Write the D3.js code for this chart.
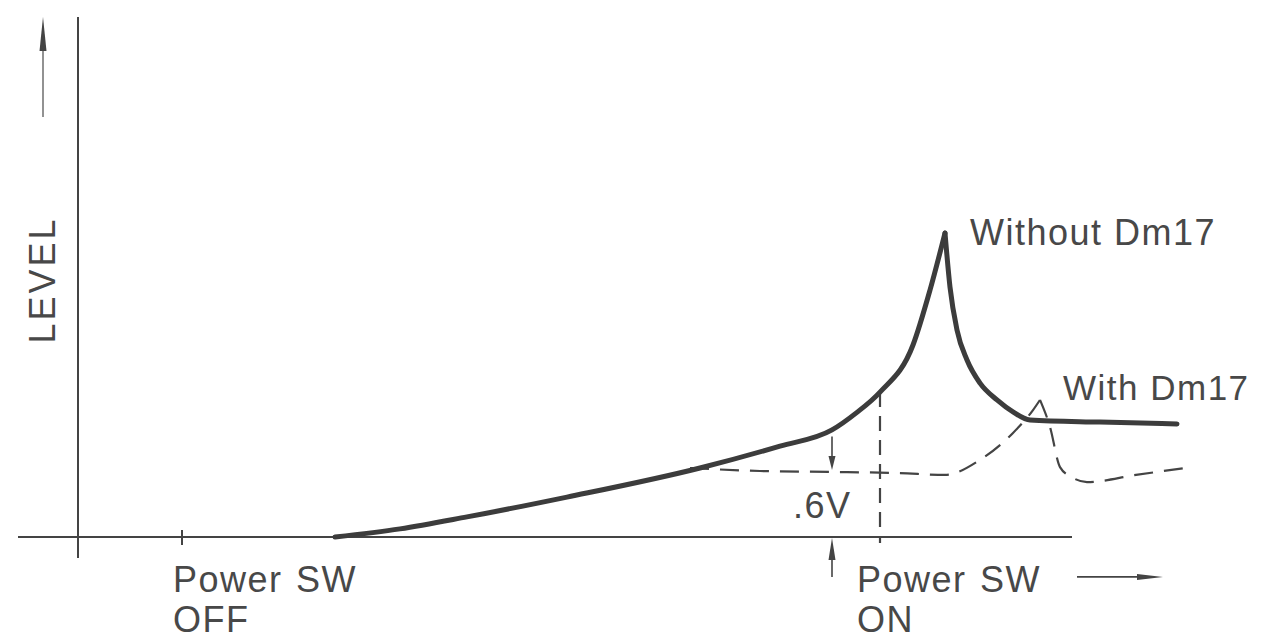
<!DOCTYPE html>
<html>
<head>
<meta charset="utf-8">
<script src="https://cdn.jsdelivr.net/npm/d3@7"></script>
<style>
  body { margin: 0; background: #fff; }
  text { font-family: "Liberation Sans", Arial, sans-serif; fill: #484848; }
</style>
</head>
<body>
<div id="chart"></div>
<script>
// Curve points in chart units: [time, level]
const solidRise = [[25.7,0],[32.2,2.7],[38.9,6.7],[48.9,13.3],[62.2,23],[70.2,30.3],[75.4,35.7],
                   [77.8,41.3],[80.2,48.3],[83.5,64],[85.2,82.3],[86.7,101.3]]
const solidFall = [[86.7,101.3],[87.2,83.3],[87.9,69],[88.9,59],[90.2,51.3],[91.9,45.7],
                   [93.5,41.7],[95.2,39],[102.2,38.3],[109.9,37.7]]
const dashRise = [[61.2,23],[68.2,22],[75.2,21.7],[82.2,21.3],[86.7,20.7],[90.2,25.7],
                  [93.5,34.7],[95.5,42.3],[96.2,45.7]]
const dashFall = [[96.2,45.7],[97.2,36.7],[98.2,23.3],[99.5,19.7],[100.9,18.3],[105.8,20.7],[110.7,23]]

// events on the time axis
const offTime = 10.4
const onTime = 75.4
const dropTime = 80.2      // where the .6V drop is measured
const dropLevels = [33.5, 22.3]
const xExtent = [-6, 99.4]
const yExtent = [-7, 173.3]

const labels = {
  without: "Without Dm17",
  with: "With Dm17",
  drop: ".6V",
  off: ["Power SW", "OFF"],
  on: ["Power SW", "ON"],
  yTitle: "LEVEL"
}

const width = 1265, height = 639
const ink = "#444"

const svg = d3.select("#chart").append("svg")
    .attr("width", width).attr("height", height)

const xScale = d3.scaleLinear().domain([0, 100]).range([78, 1078])
const yScale = d3.scaleLinear().domain([0, 100]).range([537, 237])

function seg(x1, y1, x2, y2) {
    return svg.append("line")
        .attr("x1", xScale(x1)).attr("y1", yScale(y1))
        .attr("x2", xScale(x2)).attr("y2", yScale(y2))
        .attr("stroke", ink)
}

// arrowhead: thin filled triangle with tip at (px, py), pointing dir
function head(px, py, dir, len, half) {
    const pts = {
        up:    [[px, py], [px - half, py + len], [px + half, py + len]],
        down:  [[px, py], [px - half, py - len], [px + half, py - len]],
        right: [[px, py], [px - len, py - half], [px - len, py + half]]
    }[dir]
    svg.append("path").attr("d", "M" + pts.join("L") + "Z").attr("fill", ink)
}

// axes
seg(xExtent[0], 0, xExtent[1], 0).attr("stroke-width", 2)
seg(0, yExtent[0], 0, yExtent[1]).attr("stroke-width", 2)
// Power SW OFF tick
seg(offTime, 2.3, offTime, -2.7).attr("stroke-width", 2)

// y direction arrow
seg(-3.5, 140, -3.5, 168).attr("stroke-width", 1.6).attr("stroke", "#777")
head(xScale(-3.5), yScale(yExtent[1]), "up", 34, 3.5)

// x direction arrow
seg(99.9, -13.3, 106, -13.3).attr("stroke-width", 1.6)
head(xScale(108.5), yScale(-13.3), "right", 26, 3)

// power on marker arrow below axis
seg(onTime, -13.3, onTime, -5).attr("stroke-width", 1.6)
head(xScale(onTime), yScale(0) + 1, "up", 22, 3.5)

// .6V drop arrow
seg(onTime, dropLevels[0], onTime, dropLevels[1] + 4).attr("stroke-width", 1.6)
head(xScale(onTime), yScale(dropLevels[1]), "down", 14, 3.5)

const line = d3.line()
    .x(d => xScale(d[0]))
    .y(d => yScale(d[1]))
    .curve(d3.curveMonotoneX)

// dashed "with" curve
;[dashRise, dashFall].forEach(pts => {
    svg.append("path").attr("d", line(pts))
        .attr("fill", "none").attr("stroke", ink)
        .attr("stroke-width", 2.2).attr("stroke-dasharray", "19 11")
})

// vertical dashed line at switch on
seg(dropTime, 48.3, dropTime, -2).attr("stroke-width", 2.2).attr("stroke-dasharray", "15 9")

// solid "without" curve
;[solidRise, solidFall].forEach(pts => {
    svg.append("path").attr("d", line(pts))
        .attr("fill", "none").attr("stroke", "#3c3c3c")
        .attr("stroke-width", 5).attr("stroke-linecap", "round")
        .attr("stroke-linejoin", "round")
})

// labels
function label(txt, x, y, size) {
    return svg.append("text").attr("x", x).attr("y", y)
        .attr("font-size", size).attr("letter-spacing", 1.5)
        .text(txt)
}
label(labels.without, 970, 245, 36)
label(labels.with, 1063, 400, 35)
label(labels.drop, 793, 518, 36)
label(labels.off[0], xScale(offTime) - 9, 592, 36).attr("word-spacing", 2)
label(labels.off[1], xScale(offTime) - 9, 632, 36)
label(labels.on[0], xScale(onTime) + 25, 592, 36).attr("word-spacing", 2)
label(labels.on[1], xScale(onTime) + 25, 632, 36)

svg.append("text")
    .attr("transform", "translate(55,280) rotate(-90)")
    .attr("text-anchor", "middle")
    .attr("font-size", 36).attr("letter-spacing", 3)
    .text(labels.yTitle)
</script>
</body>
</html>
